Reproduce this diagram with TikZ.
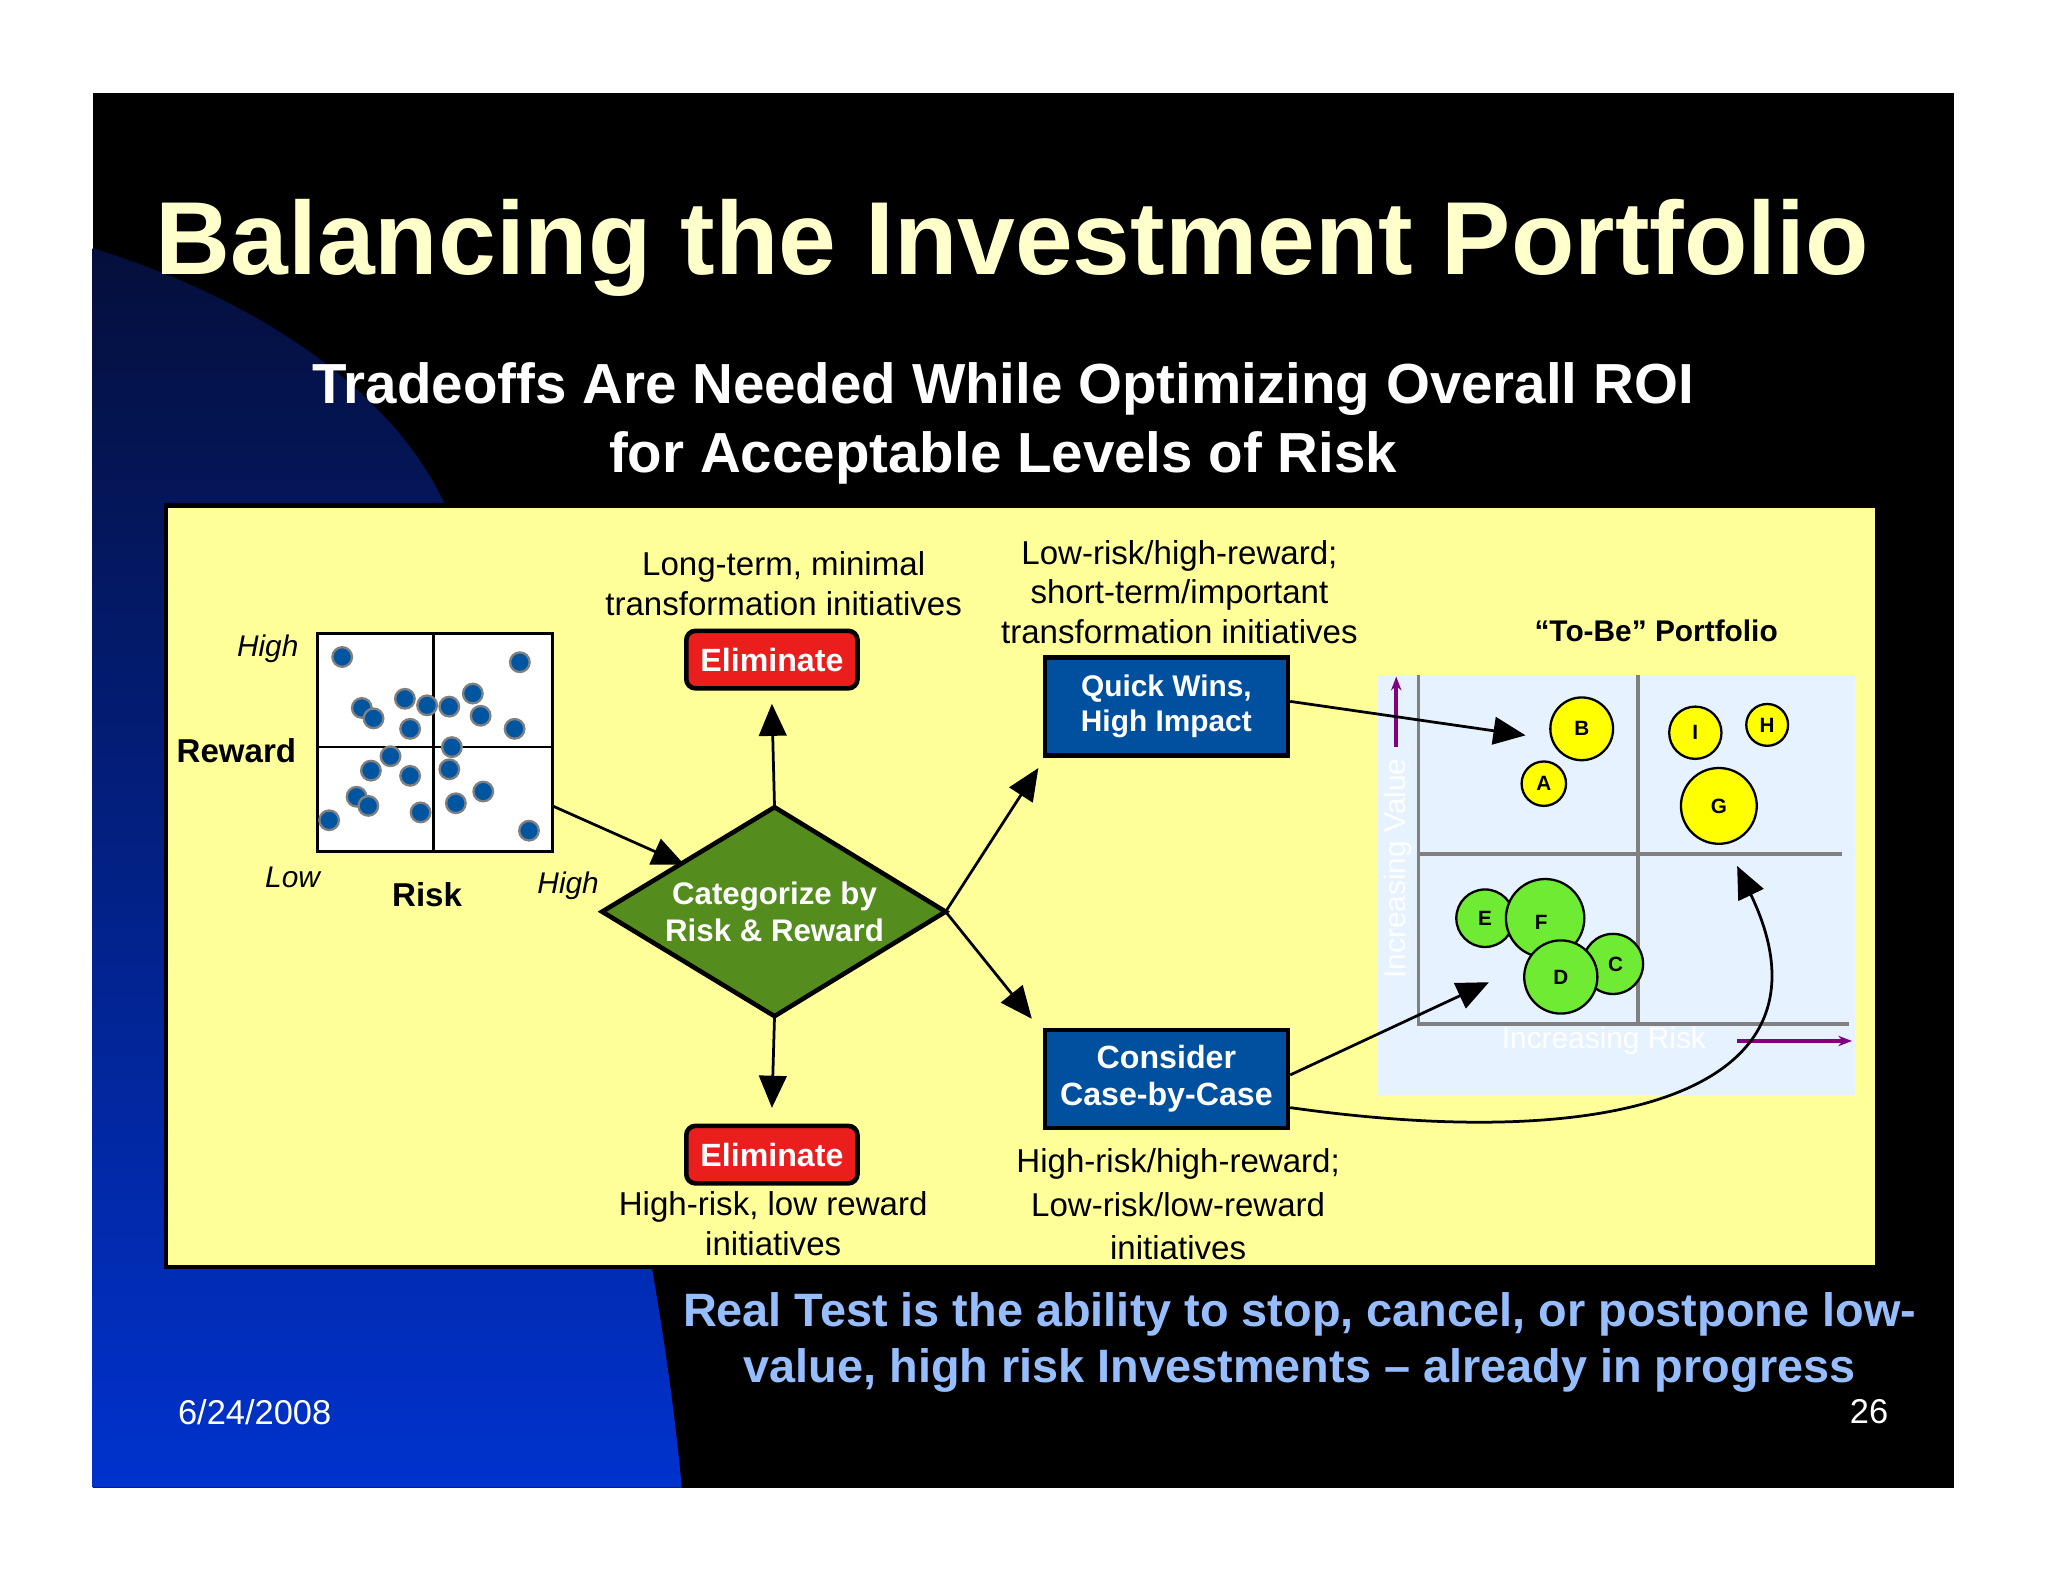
\documentclass[tikz,border=0pt]{standalone}
\usepackage{fontspec}
\setmainfont{Liberation Sans}
\usetikzlibrary{shapes.geometric,arrows.meta,shadows}
\definecolor{pnl}{RGB}{255,255,153}
\definecolor{dotb}{RGB}{0,85,160}
\definecolor{boxb}{RGB}{0,80,160}
\definecolor{titley}{RGB}{255,255,204}
\definecolor{redb}{RGB}{235,30,30}
\definecolor{grn}{RGB}{85,140,30}
\definecolor{pfb}{RGB}{230,242,255}
\definecolor{lb}{RGB}{150,190,255}
\definecolor{navy}{RGB}{5,15,60}
\definecolor{blu}{RGB}{0,50,205}
\definecolor{ylc}{RGB}{255,255,0}
\definecolor{grc}{RGB}{110,235,50}
\begin{document}
\begin{tikzpicture}[x=0.01cm,y=-0.01cm,
  txt/.style={font=\fontsize{7.2pt}{8.6pt}\selectfont,align=center,inner sep=0},
  dot/.style={circle,fill=dotb,draw=gray,line width=0.5pt,minimum size=0.15cm,inner sep=0},
  bb/.style={draw=black,line width=1pt,fill=boxb,text=white,font=\bfseries\fontsize{6.5pt}{7.6pt}\selectfont,align=center,minimum width=1.86cm,minimum height=0.75cm,inner sep=0},
  elim/.style={draw=black,line width=1pt,fill=redb,rounded corners=2pt,text=white,font=\bfseries\fontsize{7pt}{8pt}\selectfont,minimum width=1.31cm,minimum height=0.44cm,inner sep=0},
  arr/.style={-{Triangle[length=7pt,width=6pt]},line width=0.6pt},
  bub/.style={circle,draw=black,line width=0.5pt,inner sep=0,font=\bfseries\fontsize{4.5pt}{5pt}\selectfont},
  gl/.style={draw=gray,line width=0.8pt}]
\useasboundingbox (0,0) rectangle (1568,1211);
\fill[white] (0,0) rectangle (1568,1211);
\fill[black] (71,71) rectangle (1496,1139);
\shade[top color=navy,bottom color=blu] (71,190) .. controls (200,230) and (300,300) .. (340,385) .. controls (420,600) and (500,900) .. (522,1139) -- (71,1139) -- cycle;
\node[text=titley,font=\bfseries\fontsize{22.6pt}{26pt}\selectfont] (title) at (775,190) {Balancing the Investment Portfolio};
\node[text=white,font=\bfseries\fontsize{12.3pt}{15pt}\selectfont,align=center] (sub) at (768,324) {Tradeoffs Are Needed While Optimizing Overall ROI\\for Acceptable Levels of Risk};
\draw[fill=pnl,line width=1pt] (127,387) rectangle (1437,970);
% scatter
\draw[fill=white,line width=0.8pt] (243,485) rectangle (423,652);
\draw[line width=0.6pt] (332,485) -- (332,652) (243,572) -- (423,572);
\foreach \p [count=\i] in {(262,503),(398,507),(277,542),(286,550),(310,535),(327,540),(344,541),(362,531),(368,548),(314,558),(394,558),(346,572),(299,579),(284,590),(314,594),(344,589),(273,610),(282,617),(322,622),(349,615),(370,606),(252,628),(405,636)}
  \node[dot] (d\i) at \p {};
\coordinate (sc) at (423,617);
\node[txt,font=\itshape\fontsize{6.5pt}{8pt}\selectfont] (hi1) at (205,497) {High};
\node[txt,font=\bfseries\fontsize{7.2pt}{8pt}\selectfont] (rew) at (181,575) {Reward};
\node[txt,font=\itshape\fontsize{6.5pt}{8pt}\selectfont] (low) at (224,672) {Low};
\node[txt,font=\bfseries\fontsize{7.2pt}{8pt}\selectfont] (risk) at (327,685) {Risk};
\node[txt,font=\itshape\fontsize{6.5pt}{8pt}\selectfont] (hi2) at (435,678) {High};
% diamond
\coordinate (dn) at (593,618);
\coordinate (ds) at (593,778);
\coordinate (de) at (724,698);
\coordinate (dw) at (461,698);
\draw[line width=1pt,fill=grn] (dn) -- (de) -- (ds) -- (dw) -- cycle;
\node[text=white,align=center,font=\bfseries\fontsize{6.8pt}{8.2pt}\selectfont] (dia) at (593,698) {Categorize by\\Risk \& Reward};
\node[elim] (e1) at (591,505) {Eliminate};
\node[elim] (e2) at (591,884) {Eliminate};
\node[bb] (qw) at (893,541) {Quick Wins,\\High Impact};
\node[bb,font=\bfseries\fontsize{7pt}{8pt}\selectfont] (cc) at (893,826) {Consider\\Case-by-Case};
\node[txt] (t1) at (600,447) {Long-term, minimal\\transformation initiatives};
\node[txt] (t2) at (903,453) {Low-risk/high-reward;\\short-term/important\\transformation initiatives};
\node[txt,font=\fontsize{7.2pt}{9.4pt}\selectfont] (t3) at (902,922) {High-risk/high-reward;\\Low-risk/low-reward\\initiatives};
\node[txt] (t4) at (592,937) {High-risk, low reward\\initiatives};
\draw[arr] (dn) -- ([yshift=-0.1cm]e1.south);
\draw[arr] (ds) -- ([yshift=0.12cm]e2.north);
\draw[arr] (sc) -- (524,662);
\coordinate (q1) at (795,588);
\coordinate (c1) at (790,780);
\draw[arr] (de) -- (q1);
\draw[arr] (de) -- (c1);
% portfolio
\fill[pfb] (1055,517) rectangle (1420,838);
\draw[gl] (1086,517) -- (1086,784) -- (1416,784);
\draw[gl] (1254,517) -- (1254,784) (1086,654) -- (1410,654);
\draw[violet,line width=0.8pt,-{Stealth[length=3pt]}] (1069,572) -- (1069,518);
\draw[violet,line width=0.8pt,-{Stealth[length=3pt]}] (1330,797) -- (1418,797);
\node[rotate=90,text=white,font=\fontsize{6.5pt}{8pt}\selectfont] (iv) at (1070,665) {Increasing Value};
\node[text=white,font=\fontsize{6.5pt}{8pt}\selectfont] (ir) at (1228,797) {Increasing Risk};
\node[txt,font=\bfseries\fontsize{6.5pt}{8pt}\selectfont] (tb) at (1268,483) {“To-Be” Portfolio};
\node[bub,fill=ylc,minimum size=0.48cm] (B) at (1211,558) {B};
\node[bub,fill=ylc,minimum size=0.34cm] (A) at (1182,600) {A};
\node[bub,fill=ylc,minimum size=0.40cm] (I) at (1298,561) {I};
\node[bub,fill=ylc,minimum size=0.32cm] (H) at (1353,555) {H};
\node[bub,fill=ylc,minimum size=0.58cm] (G) at (1316,617) {G};
\node[bub,fill=grc,minimum size=0.44cm] (E) at (1137,703) {E};
\node[bub,fill=grc,minimum size=0.60cm] (F) at (1183,703) {};
\node[bub,fill=grc,minimum size=0.46cm] (C) at (1235,738) {};
\node[bub,fill=grc,minimum size=0.56cm] (D) at (1195,748) {D};
\node[font=\bfseries\fontsize{4.5pt}{5pt}\selectfont] (Fl) at (1180,706) {F};
\node[font=\bfseries\fontsize{4.5pt}{5pt}\selectfont] (Cl) at (1237,738) {C};
\coordinate (qa) at (1168,563);
\coordinate (ca) at (1140,752);
\coordinate (ga) at (1330,663);
\draw[arr] ([yshift=0.04cm]qw.east) -- (qa);
\draw[arr] ([yshift=0.03cm]cc.east) -- (ca);
\draw[arr] ([yshift=-0.22cm]cc.east) .. controls (1250,885) and (1410,830) .. (ga);
% bottom
\node[text=lb,font=\bfseries\fontsize{10.2pt}{12.2pt}\selectfont,align=center] (rt) at (995,1028) {Real Test is the ability to stop, cancel, or postpone low-\\value, high risk Investments – already in progress};
\node[text=white,font=\fontsize{7.5pt}{9pt}\selectfont] (dt) at (195,1081) {6/24/2008};
\node[text=white,font=\fontsize{7.5pt}{9pt}\selectfont] (pg) at (1431,1081) {26};
\end{tikzpicture}
\end{document}
